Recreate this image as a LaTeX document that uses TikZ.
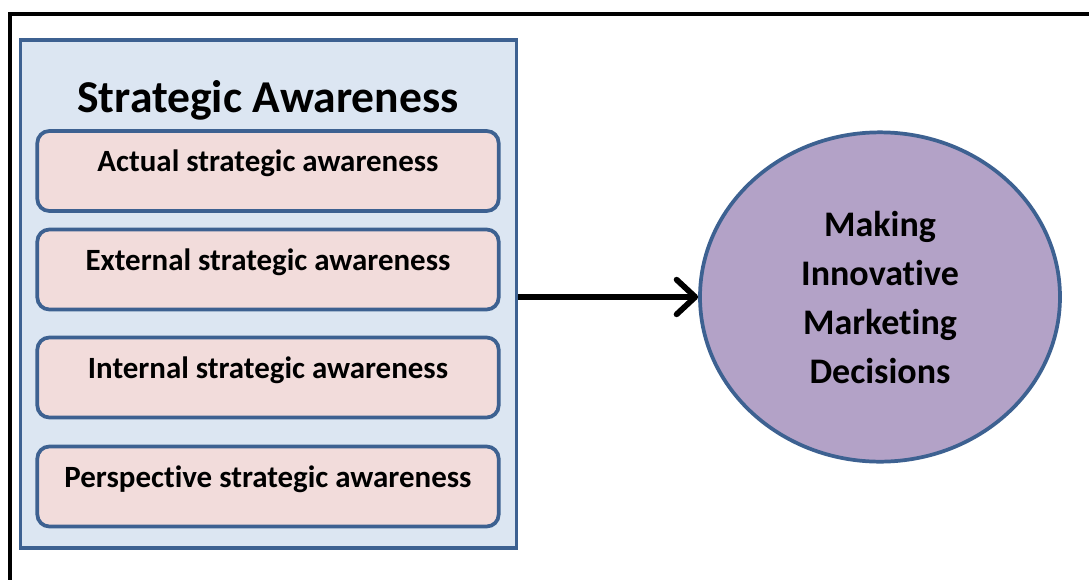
\documentclass[tikz,border=0pt]{standalone}
\usepackage{fontspec}
\setmainfont{Carlito}[Ligatures=NoCommon]
\usetikzlibrary{arrows.meta,positioning,shapes.geometric}
\definecolor{saback}{HTML}{DCE6F2}
\definecolor{saedge}{HTML}{3D6191}
\definecolor{sapink}{HTML}{F2DCDB}
\definecolor{salilac}{HTML}{B3A2C7}

\begin{document}
\begin{tikzpicture}[x=0.75pt,y=-0.75pt,
    edged/.style={draw=saedge,line width=2.8pt},
    panel/.style={edged,fill=saback,minimum width=372pt,minimum height=381pt},
    awbox/.style={edged,fill=sapink,rounded corners=9pt,minimum width=346pt,minimum height=60pt,
      font=\bfseries\fontsize{23.2}{27}\selectfont,text height=0.9em,text depth=0.8em},
    goal/.style={edged,ellipse,fill=salilac,minimum width=270pt,minimum height=247pt,align=center,
      font=\bfseries\fontsize{27}{36.75}\selectfont},
    arr/.style={line width=4.3pt,-{Straight Barb[length=14pt,width=26pt,round]}}]
  \useasboundingbox (0,0) rectangle (1089,579);
  % outer frame, cut by the page edge
  \draw[line width=3pt] (10,14) rectangle (1100,600);

  \node[panel] (sa) at (268.5,294) {};
  \node[anchor=base,font=\bfseries\fontsize{34.2}{38}\selectfont] (satitle) at (268,112) {Strategic Awareness};
  \foreach \y/\name/\txt in {171/actual/Actual,269.5/external/External,377.5/internal/Internal,486.5/perspective/Perspective}
    \node[awbox] (\name) at (268,\y) {\txt{} strategic awareness};

  \node[goal] (mimd) at (880,297) {Making\\Innovative\\Marketing\\Decisions};
  \draw[arr] (sa.east |- mimd.west) -- (mimd.west);
\end{tikzpicture}
\end{document}
